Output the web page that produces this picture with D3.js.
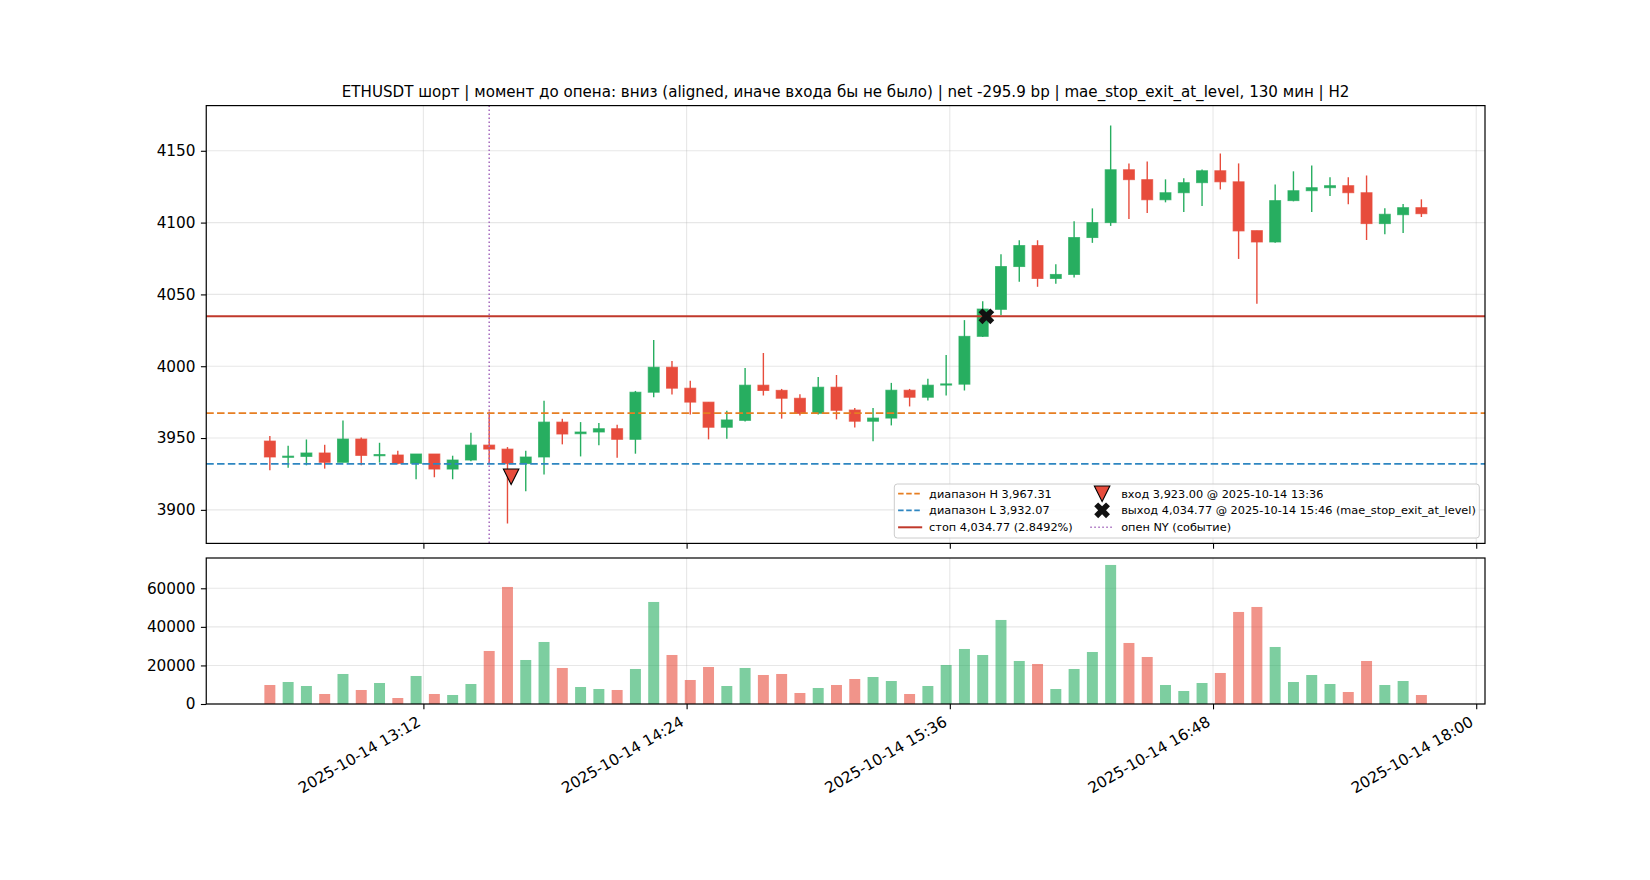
<!DOCTYPE html>
<html>
<head>
<meta charset="utf-8">
<script src="https://cdn.jsdelivr.net/npm/d3@7"></script>
<style>
  body { margin: 0; background: #fff; }
  text { font-family: "DejaVu Sans", sans-serif; fill: #000; }
</style>
</head>
<body>
<svg id="chart" width="1650" height="880"></svg>
<script>
// 5-minute candles, 2025-10-14
const times = ['12:30','12:35','12:40','12:45','12:50','12:55','13:00','13:05','13:10','13:15','13:20','13:25',
  '13:30','13:35','13:40','13:45','13:50','13:55','14:00','14:05','14:10','14:15','14:20','14:25',
  '14:30','14:35','14:40','14:45','14:50','14:55','15:00','15:05','15:10','15:15','15:20','15:25',
  '15:30','15:35','15:40','15:45','15:50','15:55','16:00','16:05','16:10','16:15','16:20','16:25',
  '16:30','16:35','16:40','16:45','16:50','16:55','17:00','17:05','17:10','17:15','17:20','17:25',
  '17:30','17:35','17:40','17:45'];
const opens = [3947.9,3936.6,3937.2,3939.6,3933.1,3949.3,3938.2,3938.2,3932.4,3938.9,3928.4,3934.7,
  3945.1,3942.3,3932.2,3936.8,3961.1,3953.0,3954.2,3956.5,3949.1,3981.9,3999.3,3984.7,
  3975.0,3957.5,3962.3,3986.8,3983.2,3977.7,3967.2,3985.4,3969.5,3961.7,3963.9,3983.3,
  3978.4,3987.0,3987.5,4020.8,4039.6,4069.4,4084.0,4061.1,4063.9,4089.6,4100.0,4136.8,
  4129.9,4115.9,4120.8,4127.8,4136.1,4128.4,4094.4,4086.5,4115.3,4122.2,4124.3,4125.7,
  4120.8,4099.3,4105.5,4110.4];
const highs = [3951.4,3944.7,3949.0,3945.3,3962.2,3950.4,3946.7,3941.2,3938.9,3938.9,3937.7,3953.7,
  3968.5,3943.7,3941.2,3975.9,3963.4,3961.1,3960.4,3959.3,3982.8,4018.3,4003.7,3989.8,
  3975.0,3969.0,3998.8,4009.2,3984.2,3980.5,3992.5,3993.9,3971.0,3971.0,3988.4,3984.2,
  3991.2,4007.8,4032.1,4045.3,4078.0,4087.7,4087.7,4071.0,4100.9,4109.9,4167.6,4141.2,
  4142.6,4130.1,4130.8,4137.0,4148.1,4141.2,4094.4,4126.6,4135.7,4139.8,4131.5,4131.5,
  4132.8,4109.9,4112.9,4116.2];
const lows = [3927.5,3929.4,3931.0,3928.7,3933.1,3931.0,3932.9,3931.7,3921.3,3922.7,3921.3,3933.8,
  3932.2,3890.5,3913.0,3924.7,3945.6,3937.2,3944.9,3936.3,3939.1,3978.4,3980.3,3966.4,
  3949.1,3949.5,3961.5,3979.6,3963.5,3965.7,3966.4,3963.0,3957.3,3947.7,3958.8,3972.0,
  3976.1,3979.6,3983.1,4020.3,4035.6,4058.8,4055.3,4057.4,4061.8,4085.9,4097.7,4102.5,
  4106.7,4114.1,4107.4,4111.6,4123.1,4074.7,4043.5,4085.9,4114.8,4107.4,4118.5,4112.7,
  4087.9,4091.9,4092.8,4103.9];
const closes = [3936.8,3937.4,3939.6,3933.1,3949.3,3937.9,3938.5,3932.4,3938.9,3928.4,3934.7,3945.1,
  3942.3,3932.2,3936.8,3961.1,3952.8,3954.2,3956.5,3949.1,3981.9,3999.3,3984.7,3975.0,
  3957.5,3962.6,3986.8,3983.1,3977.7,3967.1,3985.4,3969.3,3961.7,3963.9,3983.3,3978.4,
  3986.8,3987.7,4020.8,4039.8,4069.4,4084.0,4061.1,4063.9,4089.6,4100.0,4136.8,4129.9,
  4115.9,4120.8,4127.8,4136.1,4128.4,4094.2,4086.5,4115.3,4122.2,4124.3,4125.7,4120.8,
  4099.3,4105.8,4110.4,4106.2];
const volumes = [9855,11411,9337,5187,15561,7262,10893,3112,14524,5187,4668,10374,
  27491,60688,22823,32159,18673,8818,7781,7262,18155,52907,25416,12449,
  19192,9337,18673,15042,15561,5706,8299,9855,12968,14005,11930,5187,
  9337,20229,28529,25416,43571,22304,20748,7781,18155,26972,72099,31641,
  24379,9855,6743,10893,16080,47720,50314,29566,11411,15042,10374,6224,
  22304,9855,11930,4668];

const rangeHigh = 3967.31;
const rangeLow = 3932.07;
const stopLevel = 4034.77;
const entryTime = '13:36', entryPrice = 3923.00;
const exitTime = '15:46', exitPrice = 4034.77;
const nyOpenTime = '13:30';

const priceTicks = [3900, 3950, 4000, 4050, 4100, 4150];
const volumeTicks = [0, 20000, 40000, 60000];
const timeTicks = ['13:12', '14:24', '15:36', '16:48', '18:00'];

const titleText = 'ETHUSDT шорт | момент до опена: вниз (aligned, иначе входа бы не было) | net -295.9 bp | mae_stop_exit_at_level, 130 мин | H2';
const legendLabels = ['диапазон H 3,967.31', 'диапазон L 3,932.07', 'стоп 4,034.77 (2.8492%)',
  'вход 3,923.00 @ 2025-10-14 13:36', 'выход 4,034.77 @ 2025-10-14 15:46 (mae_stop_exit_at_level)', 'опен NY (событие)'];

const UP = '#27ae60', DOWN = '#e74c3c';

// layout (matplotlib-like figure)
const left = 206.25, right = 1485;
const pTop = 105.6, pBottom = 543.4;
const vTop = 558.0, vBottom = 704;

const parse = d3.timeParse('%Y-%m-%d %H:%M');
const T = s => parse('2025-10-14 ' + s);
const dates = times.map(T);
const MIN = 60000;

const t0 = +d3.min(dates) - 1.5 * MIN, t1 = +d3.max(dates) + 1.5 * MIN;
const padX = (t1 - t0) * 0.05;
const x = d3.scaleTime().domain([new Date(t0 - padX), new Date(t1 + padX)]).range([left, right]);

const pMin = d3.min(lows), pMax = d3.max(highs);
const padY = (pMax - pMin) * 0.05;
const y = d3.scaleLinear().domain([pMin - padY, pMax + padY]).range([pBottom, pTop]);
const yv = d3.scaleLinear().domain([0, d3.max(volumes) * 1.05]).range([vBottom, vTop]);

const barW = x(new Date(t0 + 3 * MIN)) - x(new Date(t0));

const svg = d3.select('#chart');

// title
svg.append('text').attr('x', (left + right) / 2).attr('y', 96.5)
  .attr('text-anchor', 'middle').style('font-size', '15.1px').text(titleText);

// grids
const grid = svg.append('g').attr('stroke', '#b0b0b0').attr('stroke-opacity', 0.3).attr('stroke-width', 1.1);
grid.selectAll('.gy').data(priceTicks).enter().append('line')
  .attr('x1', left).attr('x2', right).attr('y1', d => y(d)).attr('y2', d => y(d));
grid.selectAll('.gv').data(volumeTicks).enter().append('line')
  .attr('x1', left).attr('x2', right).attr('y1', d => yv(d)).attr('y2', d => yv(d));
[[pTop, pBottom], [vTop, vBottom]].forEach(([a, b]) => {
  grid.append('g').selectAll('line').data(timeTicks).enter().append('line')
    .attr('x1', d => x(T(d))).attr('x2', d => x(T(d))).attr('y1', a).attr('y2', b);
});

// candles
const candles = svg.append('g');
const cData = times.map((t, i) => ({ d: dates[i], o: opens[i], h: highs[i], l: lows[i], c: closes[i], v: volumes[i] }));
const col = d => d.c >= d.o ? UP : DOWN;
candles.selectAll('.wick').data(cData).enter().append('line')
  .attr('x1', d => x(d.d)).attr('x2', d => x(d.d))
  .attr('y1', d => y(d.h)).attr('y2', d => y(d.l))
  .attr('stroke', col).attr('stroke-width', 1.4);
candles.selectAll('.body').data(cData).enter().append('rect')
  .attr('x', d => x(d.d) - barW / 2).attr('width', barW)
  .attr('y', d => y(Math.max(d.o, d.c)))
  .attr('height', d => Math.max(1.2, Math.abs(y(d.o) - y(d.c))))
  .attr('fill', col).attr('stroke', col).attr('stroke-opacity', 0.75).attr('stroke-width', 1);

// volume bars
svg.append('g').selectAll('rect').data(cData).enter().append('rect')
  .attr('x', d => x(d.d) - barW / 2).attr('width', barW)
  .attr('y', d => yv(d.v)).attr('height', d => vBottom - yv(d.v))
  .attr('fill', col).attr('fill-opacity', 0.6);

// level lines
const lines = svg.append('g');
lines.append('line').attr('x1', left).attr('x2', right).attr('y1', y(rangeHigh)).attr('y2', y(rangeHigh))
  .attr('stroke', '#e67e22').attr('stroke-width', 1.8).attr('stroke-dasharray', '7.5,3.3');
lines.append('line').attr('x1', left).attr('x2', right).attr('y1', y(rangeLow)).attr('y2', y(rangeLow))
  .attr('stroke', '#2e86c1').attr('stroke-width', 1.8).attr('stroke-dasharray', '7.5,3.3');
lines.append('line').attr('x1', left).attr('x2', right).attr('y1', y(stopLevel)).attr('y2', y(stopLevel))
  .attr('stroke', '#c0392b').attr('stroke-width', 2);
lines.append('line').attr('x1', x(T(nyOpenTime))).attr('x2', x(T(nyOpenTime))).attr('y1', pTop).attr('y2', pBottom)
  .attr('stroke', '#a569bd').attr('stroke-width', 1.5).attr('stroke-dasharray', '1.5,2.5');

// markers
const triPath = s => `M${-s / 2},${-s / 2}L${s / 2},${-s / 2}L0,${s / 2}Z`;
const xPath = d3.symbol().type(d3.symbolCross).size(155)();
svg.append('path').attr('d', triPath(15.5))
  .attr('transform', `translate(${x(T(entryTime))},${y(entryPrice)})`)
  .attr('fill', DOWN).attr('stroke', '#000').attr('stroke-width', 1.1);
svg.append('path').attr('d', xPath)
  .attr('transform', `translate(${x(T(exitTime))},${y(exitPrice)}) rotate(45)`)
  .attr('fill', '#111');

// axes frames
[[pTop, pBottom], [vTop, vBottom]].forEach(([a, b]) => {
  svg.append('rect').attr('x', left).attr('y', a).attr('width', right - left).attr('height', b - a)
    .attr('fill', 'none').attr('stroke', '#000').attr('stroke-width', 1.2);
});

// y axes
const tickLen = 5.35, tickPad = 5.35;
const yAxisP = d3.axisLeft(y).tickValues(priceTicks).tickSize(tickLen).tickPadding(tickPad).tickFormat(d3.format('d'));
const yAxisV = d3.axisLeft(yv).tickValues(volumeTicks).tickSize(tickLen).tickPadding(tickPad).tickFormat(d3.format('d'));
const xAxisP = d3.axisBottom(x).tickValues(timeTicks.map(T)).tickSize(tickLen).tickFormat('');
const xAxisV = d3.axisBottom(x).tickValues(timeTicks.map(T)).tickSize(tickLen).tickFormat('');

function styleAxis(g) {
  g.select('.domain').remove();
  g.selectAll('.tick line').attr('stroke', '#000').attr('stroke-width', 1.1);
  g.selectAll('.tick text').style('font-size', '15.3px').style('font-family', '"DejaVu Sans", sans-serif').attr('fill', '#000');
}
svg.append('g').attr('transform', `translate(${left},0)`).call(yAxisP).call(styleAxis);
svg.append('g').attr('transform', `translate(${left},0)`).call(yAxisV).call(styleAxis);
svg.append('g').attr('transform', `translate(0,${pBottom})`).call(xAxisP).call(styleAxis);
svg.append('g').attr('transform', `translate(0,${vBottom})`).call(xAxisV).call(styleAxis);

// rotated date labels
const fmt = d3.timeFormat('%Y-%m-%d %H:%M');
svg.append('g').selectAll('text').data(timeTicks.map(T)).enter().append('text')
  .attr('transform', d => `translate(${x(d) - 1.7},${vBottom + tickLen + tickPad + 10.2}) rotate(-30)`)
  .attr('text-anchor', 'end').style('font-size', '15.3px').text(d => fmt(d));

// legend
const lgW = 585, lgH = 54;
const lgX = right - 5.7 - lgW, lgY = pBottom - 5.4 - lgH;
const lg = svg.append('g').attr('transform', `translate(${lgX},${lgY})`);
lg.append('rect').attr('width', lgW).attr('height', lgH).attr('rx', 3)
  .attr('fill', '#fff').attr('fill-opacity', 0.8).attr('stroke', '#cccccc').attr('stroke-width', 1);
const rowY = [9.7, 26.3, 43.3];
const lgFont = '11.3px';
const handles = [
  g => g.append('line').attr('x1', 3.8).attr('x2', 27.9).attr('stroke', '#e67e22').attr('stroke-width', 1.8).attr('stroke-dasharray', '5.5,2.6'),
  g => g.append('line').attr('x1', 3.8).attr('x2', 27.9).attr('stroke', '#2e86c1').attr('stroke-width', 1.8).attr('stroke-dasharray', '5.5,2.6'),
  g => g.append('line').attr('x1', 3.8).attr('x2', 27.9).attr('stroke', '#c0392b').attr('stroke-width', 2),
  g => g.append('path').attr('d', triPath(15.5)).attr('transform', 'translate(207.8,0)').attr('fill', DOWN).attr('stroke', '#000').attr('stroke-width', 1.1),
  g => g.append('path').attr('d', xPath).attr('transform', 'translate(207.8,0) rotate(45)').attr('fill', '#111'),
  g => g.append('line').attr('x1', 196).attr('x2', 220).attr('stroke', '#a569bd').attr('stroke-width', 1.5).attr('stroke-dasharray', '1.5,2.5')
];
legendLabels.forEach((lab, i) => {
  const row = lg.append('g').attr('transform', `translate(0,${rowY[i % 3]})`);
  handles[i](row);
  row.append('text').attr('x', i < 3 ? 34.8 : 226.9).attr('dy', '0.36em').style('font-size', lgFont).text(lab);
});
</script>
</body>
</html>
